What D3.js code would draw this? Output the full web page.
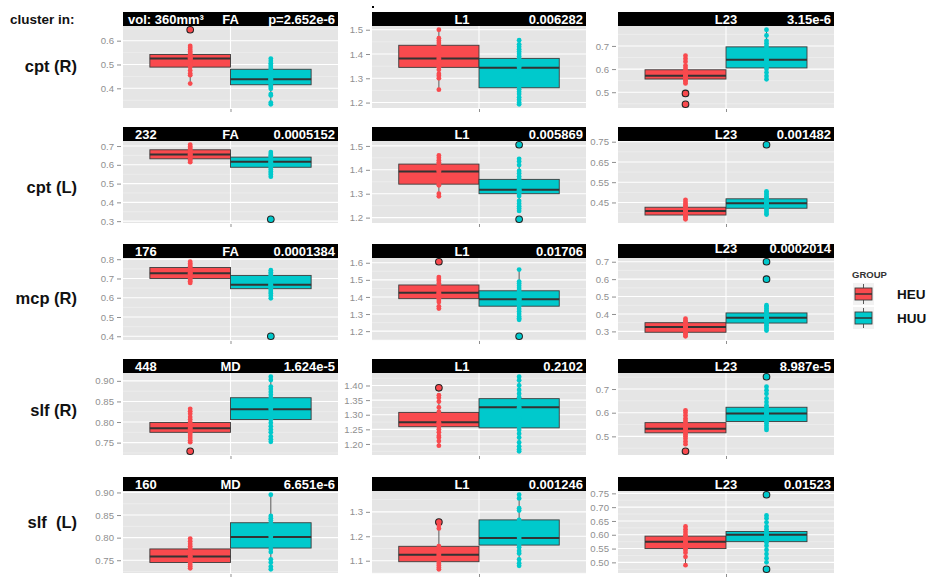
<!DOCTYPE html>
<html><head><meta charset="utf-8">
<script src="https://cdn.jsdelivr.net/npm/d3@7"></script>
<style>
body{margin:0;background:#fff}
svg{display:block}
text{font-family:"Liberation Sans",Arial,Helvetica,sans-serif;white-space:pre}
</style>
</head><body>
<svg id="chart" width="935" height="582"></svg>
<script>
// ---------------- data ----------------
const rowLabels = ["cpt (R)", "cpt (L)", "mcp (R)", "slf (R)", "slf  (L)"];
const clusterSizes = ["vol: 360mm\u00B3", "232", "176", "448", "160"];
const measures = ["FA", "FA", "FA", "MD", "MD"];
const layers = [null, "L1", "L23"];
const groups = ["HEU", "HUU"];
const pValues = [
  ["p=2.652e-6", "0.006282", "3.15e-6"],
  ["0.0005152", "0.005869", "0.001482"],
  ["0.0001384", "0.01706", "0.0002014"],
  ["1.624e-5", "0.2102", "8.987e-5"],
  ["6.651e-6", "0.001246", "0.01523"]
];
// tick labels per panel (row-major: row0 col0, row0 col1, ...)
const yTickLabels = [
  ["0.4","0.5","0.6"], ["1.2","1.3","1.4","1.5"], ["0.5","0.6","0.7"],
  ["0.3","0.4","0.5","0.6","0.7"], ["1.2","1.3","1.4","1.5"], ["0.45","0.55","0.65","0.75"],
  ["0.4","0.5","0.6","0.7","0.8"], ["1.2","1.3","1.4","1.5","1.6"], ["0.3","0.4","0.5","0.6","0.7"],
  ["0.75","0.80","0.85","0.90"], ["1.20","1.25","1.30","1.35","1.40"], ["0.5","0.6","0.7"],
  ["0.75","0.80","0.85","0.90"], ["1.1","1.2","1.3"], ["0.50","0.55","0.60","0.65","0.70","0.75"]
];
// box statistics [q1, median, q3]
const heuBox = [
  [0.489,0.525,0.542], [1.345,1.381,1.436], [0.557,0.571,0.597],
  [0.632,0.655,0.680], [1.340,1.393,1.424], [0.388,0.408,0.4265],
  [0.700,0.727,0.757], [1.390,1.424,1.470], [0.295,0.325,0.350],
  [0.775,0.785,0.799], [1.259,1.274,1.308], [0.515,0.532,0.558],
  [0.745,0.758,0.775], [1.096,1.124,1.159], [0.550,0.575,0.595]
];
const huuBox = [
  [0.415,0.438,0.480], [1.261,1.343,1.382], [0.605,0.640,0.696],
  [0.587,0.616,0.641], [1.300,1.317,1.360], [0.4215,0.4465,0.468],
  [0.647,0.668,0.716], [1.346,1.386,1.436], [0.348,0.379,0.406],
  [0.806,0.831,0.859], [1.255,1.326,1.355], [0.563,0.597,0.623],
  [0.777,0.8015,0.833], [1.164,1.193,1.267], [0.575,0.600,0.612]
];
const heuPoints = [
  [0.420,0.455,0.462,0.475,0.489,0.495,0.503,0.510,0.516,0.520,0.523,0.525,0.527,0.530,0.534,0.538,0.542,0.548,0.555,0.562,0.570,0.578],
  [1.253,1.300,1.310,1.318,1.335,1.345,1.352,1.360,1.368,1.375,1.381,1.388,1.395,1.405,1.415,1.425,1.436,1.445,1.455,1.465,1.500],
  [0.538,0.545,0.552,0.558,0.562,0.566,0.570,0.573,0.577,0.582,0.588,0.595,0.605,0.615,0.632,0.645,0.658],
  [0.614,0.622,0.630,0.636,0.642,0.648,0.652,0.656,0.660,0.665,0.670,0.676,0.682,0.690,0.698,0.707],
  [1.289,1.300,1.335,1.342,1.350,1.358,1.365,1.372,1.380,1.386,1.393,1.398,1.404,1.410,1.418,1.425,1.432,1.440,1.450,1.460],
  [0.367,0.375,0.382,0.388,0.393,0.398,0.402,0.406,0.409,0.413,0.418,0.423,0.428,0.435,0.443,0.452,0.463],
  [0.677,0.685,0.692,0.700,0.706,0.712,0.718,0.723,0.727,0.731,0.736,0.742,0.748,0.755,0.762,0.770,0.778,0.787],
  [1.332,1.345,1.370,1.382,1.392,1.400,1.408,1.415,1.420,1.424,1.430,1.437,1.445,1.455,1.465,1.480,1.495,1.505,1.516],
  [0.272,0.280,0.288,0.295,0.302,0.308,0.314,0.320,0.325,0.330,0.336,0.342,0.348,0.355,0.362,0.373],
  [0.751,0.756,0.761,0.766,0.771,0.775,0.778,0.781,0.784,0.786,0.789,0.792,0.796,0.800,0.806,0.812,0.820,0.826,0.832],
  [1.194,1.210,1.222,1.228,1.240,1.250,1.259,1.265,1.270,1.274,1.280,1.288,1.296,1.303,1.310,1.325,1.345,1.358,1.367],
  [0.467,0.478,0.490,0.500,0.508,0.515,0.520,0.525,0.530,0.534,0.538,0.544,0.550,0.558,0.566,0.576,0.588,0.600,0.610],
  [0.732,0.736,0.740,0.745,0.748,0.751,0.754,0.757,0.759,0.762,0.765,0.768,0.772,0.776,0.781,0.786,0.792,0.798],
  [1.065,1.072,1.080,1.088,1.096,1.102,1.108,1.114,1.120,1.124,1.130,1.138,1.145,1.152,1.160,1.232,1.244],
  [0.490,0.520,0.535,0.545,0.550,0.556,0.562,0.568,0.573,0.577,0.582,0.588,0.594,0.600,0.610,0.620,0.630]
];
const huuPoints = [
  [0.333,0.340,0.370,0.376,0.398,0.405,0.412,0.418,0.425,0.430,0.435,0.438,0.441,0.445,0.452,0.460,0.468,0.475,0.482,0.490,0.498,0.505,0.515,0.525],
  [1.193,1.200,1.212,1.222,1.235,1.245,1.255,1.265,1.280,1.295,1.310,1.325,1.335,1.343,1.350,1.360,1.370,1.380,1.390,1.400,1.410,1.420,1.430,1.440,1.457],
  [0.556,0.570,0.585,0.600,0.610,0.620,0.628,0.636,0.642,0.650,0.660,0.668,0.678,0.690,0.700,0.712,0.722,0.745,0.770],
  [0.537,0.548,0.556,0.565,0.575,0.585,0.592,0.600,0.608,0.614,0.618,0.623,0.630,0.636,0.642,0.650,0.658,0.668],
  [1.228,1.238,1.248,1.258,1.270,1.290,1.300,1.305,1.310,1.314,1.317,1.320,1.326,1.333,1.340,1.348,1.355,1.362,1.372,1.385,1.395,1.420,1.435,1.446],
  [0.390,0.398,0.408,0.418,0.424,0.430,0.436,0.442,0.446,0.450,0.455,0.460,0.466,0.472,0.480,0.488,0.497,0.505],
  [0.597,0.610,0.622,0.630,0.640,0.648,0.655,0.660,0.665,0.668,0.672,0.678,0.685,0.693,0.700,0.708,0.716,0.724,0.733,0.743],
  [1.266,1.275,1.285,1.300,1.315,1.330,1.345,1.355,1.365,1.375,1.382,1.386,1.392,1.400,1.410,1.420,1.430,1.440,1.452,1.465,1.478,1.490,1.560],
  [0.305,0.315,0.325,0.335,0.345,0.352,0.360,0.368,0.374,0.379,0.384,0.390,0.397,0.405,0.413,0.422,0.432,0.442,0.450],
  [0.752,0.758,0.765,0.775,0.782,0.790,0.798,0.806,0.812,0.818,0.824,0.829,0.833,0.838,0.845,0.852,0.859,0.866,0.873,0.880,0.886,0.902,0.910],
  [1.175,1.182,1.192,1.205,1.222,1.235,1.248,1.258,1.270,1.285,1.300,1.312,1.320,1.326,1.332,1.340,1.350,1.360,1.372,1.385,1.400,1.418,1.430],
  [0.527,0.535,0.545,0.555,0.563,0.570,0.578,0.585,0.592,0.597,0.602,0.608,0.615,0.623,0.632,0.645,0.660,0.680,0.695,0.710],
  [0.730,0.736,0.745,0.752,0.768,0.775,0.782,0.788,0.794,0.798,0.802,0.806,0.812,0.818,0.825,0.832,0.838,0.843,0.848,0.895],
  [1.079,1.090,1.105,1.130,1.140,1.155,1.164,1.172,1.180,1.186,1.193,1.200,1.210,1.220,1.232,1.245,1.258,1.267,1.305,1.315,1.355,1.370],
  [0.500,0.515,0.530,0.545,0.560,0.572,0.578,0.585,0.592,0.598,0.602,0.606,0.612,0.620,0.630,0.645,0.660,0.670]
];
const heuOutliers = [
  [0.646], [], [0.495,0.448],
  [], [], [],
  [], [1.606], [],
  [0.729], [1.392], [0.437],
  [], [1.258], []
];
const huuOutliers = [
  [], [], [],
  [0.310], [1.505,1.193], [0.735],
  [0.400], [1.170], [0.700,0.600],
  [], [], [0.752],
  [], [], [0.745,0.475]
];

// ---------------- layout ----------------
const colX = [123, 372, 618];
const colW = [215, 214, 216];
const stripTop = [12, 127, 244, 359, 477];
const stripH = 14;
const panelH = 82;
const labelY = [72, 193, 304, 416, 528];
const fillColor = {HEU: "#F94A4E", HUU: "#00C9CC"};
const dodge = {HEU: 0.775, HUU: 1.225};
const halfW = 0.225;
const tickGrey = "#8f8f8f";

const svg = d3.select("#chart");

svg.append("text").attr("x", 10).attr("y", 24)
  .attr("font-size", 13.5).attr("font-weight", "bold").attr("fill", "#111")
  .text("cluster in:");
svg.append("rect").attr("x", 372).attr("y", 6).attr("width", 2).attr("height", 2).attr("fill", "#000");

rowLabels.forEach((lab, r) => {
  svg.append("text").attr("x", 77).attr("y", labelY[r])
    .attr("text-anchor", "end").attr("font-size", 16.5).attr("font-weight", "bold").attr("fill", "#111")
    .attr("xml:space", "preserve")
    .text(lab);
});

for (let r = 0; r < 5; r++) {
  for (let c = 0; c < 3; c++) {
    const i = r * 3 + c;
    const x0 = colX[c], w = colW[c];
    const sTop = stripTop[r];
    const y0 = sTop + stripH, h = panelH;
    const all = heuPoints[i].concat(huuPoints[i], heuOutliers[i], huuOutliers[i]);
    const [mn, mx] = d3.extent(all);
    const pad = (mx - mn) * 0.05;
    const y = d3.scaleLinear().domain([mn - pad, mx + pad]).range([y0 + h, y0]);
    const x = d3.scaleLinear().domain([0.4, 1.6]).range([x0, x0 + w]);
    const g = svg.append("g");

    g.append("rect").attr("x", x0).attr("y", y0).attr("width", w).attr("height", h).attr("fill", "#E5E5E5");

    const ticks = yTickLabels[i].map(Number);
    const step = ticks[1] - ticks[0];
    const minors = [];
    for (let k = -1; k < ticks.length; k++) {
      const v = (k < 0 ? ticks[0] : ticks[k]) + (k < 0 ? -step / 2 : step / 2);
      if (v > y.domain()[0] && v < y.domain()[1]) minors.push(v);
    }
    g.selectAll(".minor").data(minors).enter().append("line")
      .attr("x1", x0).attr("x2", x0 + w)
      .attr("y1", d => y(d)).attr("y2", d => y(d))
      .attr("stroke", "#F2F2F2").attr("stroke-width", 0.6);
    g.selectAll(".major").data(ticks).enter().append("line")
      .attr("x1", x0).attr("x2", x0 + w)
      .attr("y1", d => y(d)).attr("y2", d => y(d))
      .attr("stroke", "#FFFFFF").attr("stroke-width", 1.1);
    g.append("line").attr("x1", x(1)).attr("x2", x(1)).attr("y1", y0).attr("y2", y0 + h)
      .attr("stroke", "#FFFFFF").attr("stroke-width", 1.1);

    const ax = g.append("g").attr("transform", `translate(${x0 - 2},0)`)
      .call(d3.axisLeft(y).tickValues(ticks).tickFormat((d, j) => yTickLabels[i][j]).tickSize(4).tickPadding(3));
    ax.select(".domain").remove();
    ax.selectAll("line").attr("stroke", tickGrey);
    ax.selectAll("text").attr("fill", tickGrey).attr("font-size", 9.6)
      .attr("font-family", '"Liberation Sans",Arial,sans-serif');
    const bx = g.append("g").attr("transform", `translate(0,${y0 + h + 1})`)
      .call(d3.axisBottom(x).tickValues([1]).tickFormat("").tickSize(3));
    bx.select(".domain").remove();
    bx.selectAll("line").attr("stroke", tickGrey);

    groups.forEach(grp => {
      const box = grp === "HEU" ? heuBox[i] : huuBox[i];
      const pts = grp === "HEU" ? heuPoints[i] : huuPoints[i];
      const [lo, hi] = d3.extent(pts);
      const cx = x(dodge[grp]);
      const bl = x(dodge[grp] - halfW), br = x(dodge[grp] + halfW);
      g.append("line").attr("x1", cx).attr("x2", cx).attr("y1", y(hi)).attr("y2", y(box[2]))
        .attr("stroke", "#5a5a5a").attr("stroke-width", 1);
      g.append("line").attr("x1", cx).attr("x2", cx).attr("y1", y(box[0])).attr("y2", y(lo))
        .attr("stroke", "#5a5a5a").attr("stroke-width", 1);
      g.append("rect").attr("x", bl).attr("y", y(box[2])).attr("width", br - bl)
        .attr("height", y(box[0]) - y(box[2]))
        .attr("fill", fillColor[grp]).attr("stroke", "#3c3c3c").attr("stroke-width", 0.9);
      g.append("line").attr("x1", bl).attr("x2", br).attr("y1", y(box[1])).attr("y2", y(box[1]))
        .attr("stroke", "#333").attr("stroke-width", 2);
    });
    groups.forEach(grp => {
      const outs = grp === "HEU" ? heuOutliers[i] : huuOutliers[i];
      g.selectAll(null).data(outs).enter().append("circle")
        .attr("cx", x(dodge[grp])).attr("cy", d => y(d)).attr("r", 3.3)
        .attr("fill", fillColor[grp]).attr("stroke", "#222").attr("stroke-width", 1.1);
    });
    groups.forEach(grp => {
      const pts = grp === "HEU" ? heuPoints[i] : huuPoints[i];
      const outs = grp === "HEU" ? heuOutliers[i] : huuOutliers[i];
      g.selectAll(null).data(pts.concat(outs)).enter().append("circle")
        .attr("cx", x(dodge[grp])).attr("cy", d => y(d)).attr("r", 2.4)
        .attr("fill", fillColor[grp]);
    });

    g.append("rect").attr("x", x0).attr("y", sTop).attr("width", w).attr("height", stripH).attr("fill", "#000");
    const shift = (r === 2 && c === 2) ? -2.5 : 0;
    const tb = sTop + 11.5 + shift;
    const st = (sel) => sel.attr("fill", "#fff").attr("font-size", 13).attr("font-weight", "bold");
    if (c === 0) {
      st(g.append("text").attr("x", x0 + (r === 0 ? 5 : 12)).attr("y", tb).text(clusterSizes[r]));
      st(g.append("text").attr("x", x(1)).attr("y", tb).attr("text-anchor", "middle").text(measures[r]));
    } else {
      const mid = c === 1 ? x(1) - 17 : x(1);
      st(g.append("text").attr("x", mid).attr("y", tb).attr("text-anchor", "middle").text(layers[c]));
    }
    st(g.append("text").attr("x", x0 + w - 3).attr("y", tb).attr("text-anchor", "end").text(pValues[r][c]));
  }
}

const lg = svg.append("g");
lg.append("text").attr("x", 852).attr("y", 278).attr("font-size", 9.5).attr("font-weight", "bold")
  .attr("fill", "#333").text("GROUP");
groups.forEach((grp, k) => {
  const ky = 283 + k * 24;
  lg.append("rect").attr("x", 853).attr("y", ky).attr("width", 21).attr("height", 22).attr("fill", "#F2F2F2");
  lg.append("line").attr("x1", 863.5).attr("x2", 863.5).attr("y1", ky + 1).attr("y2", ky + 21)
    .attr("stroke", "#5a5a5a").attr("stroke-width", 1);
  lg.append("rect").attr("x", 855).attr("y", ky + 5).attr("width", 17).attr("height", 12)
    .attr("fill", fillColor[grp]).attr("stroke", "#3c3c3c").attr("stroke-width", 0.9);
  lg.append("line").attr("x1", 855).attr("x2", 872).attr("y1", ky + 11).attr("y2", ky + 11)
    .attr("stroke", "#333").attr("stroke-width", 1.5);
  lg.append("text").attr("x", 897).attr("y", ky + 15.5).attr("font-size", 13.5).attr("font-weight", "bold")
    .attr("fill", "#111").text(grp);
});
</script>
</body></html>
